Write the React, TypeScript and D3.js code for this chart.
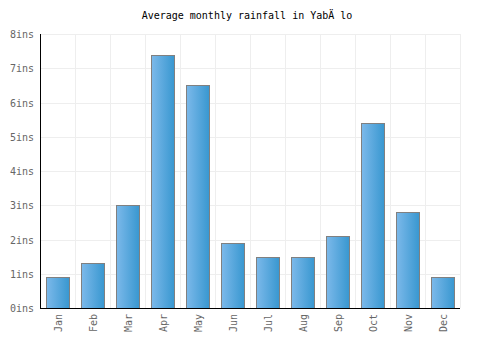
import React, { useRef, useEffect } from "react";
import * as d3 from "d3";

const months = ["Jan", "Feb", "Mar", "Apr", "May", "Jun", "Jul", "Aug", "Sep", "Oct", "Nov", "Dec"];
const rainfall = [0.9, 1.3, 3.0, 7.4, 6.5, 1.9, 1.5, 1.5, 2.1, 5.4, 2.8, 0.9];
const yTicks = [0, 1, 2, 3, 4, 5, 6, 7, 8];

export default function App() {
  const svgRef = useRef<SVGSVGElement>(null);

  useEffect(() => {
    const width = 500;
    const height = 350;
    const margin = { top: 34, right: 40, bottom: 42, left: 40 };
    const font = "'DejaVu Sans Mono', monospace";

    const svg = d3.select(svgRef.current);
    svg.selectAll("*").remove();
    svg.attr("width", width).attr("height", height);

    const defs = svg.append("defs");
    const grad = defs
      .append("linearGradient")
      .attr("id", "barGrad")
      .attr("x1", "0%")
      .attr("x2", "100%")
      .attr("y1", "0%")
      .attr("y2", "0%");
    grad.append("stop").attr("offset", "0%").attr("stop-color", "#7cb9ea");
    grad.append("stop").attr("offset", "100%").attr("stop-color", "#3897d0");

    const x = d3
      .scaleBand()
      .domain(months)
      .range([margin.left, width - margin.right])
      .paddingInner(0.33)
      .paddingOuter(0.165);

    const bandW = (width - margin.left - margin.right) / months.length;

    const y = d3
      .scaleLinear()
      .domain([0, 8])
      .range([height - margin.bottom, margin.top]);

    // Title
    svg
      .append("text")
      .attr("x", 247)
      .attr("y", 19)
      .attr("text-anchor", "middle")
      .attr("font-family", font)
      .attr("font-size", "10px")
      .attr("fill", "#000")
      .text("Average monthly rainfall in YabÄ lo");

    // Grid
    const grid = svg.append("g");
    yTicks.slice(1).forEach((t) => {
      grid
        .append("line")
        .attr("x1", margin.left)
        .attr("x2", width - margin.right)
        .attr("y1", Math.round(y(t)) + 0.5)
        .attr("y2", Math.round(y(t)) + 0.5)
        .attr("stroke", "#eeeeee");
    });
    for (let i = 1; i <= months.length; i++) {
      const gx = Math.round(margin.left + i * bandW) + 0.5;
      grid
        .append("line")
        .attr("x1", gx)
        .attr("x2", gx)
        .attr("y1", margin.top)
        .attr("y2", height - margin.bottom)
        .attr("stroke", "#eeeeee");
    }

    // Bars
    svg
      .append("g")
      .selectAll("rect")
      .data(rainfall)
      .join("rect")
      .attr("x", (_, i) => Math.round(x(months[i])!) + 0.5)
      .attr("y", (d) => Math.round(y(d)) + 0.5)
      .attr("width", Math.round(x.bandwidth()))
      .attr("height", (d) => Math.round(y(0)) - Math.round(y(d)))
      .attr("fill", "url(#barGrad)")
      .attr("stroke", "#808080")
      .attr("stroke-width", 1);

    // Axes lines
    svg
      .append("line")
      .attr("x1", margin.left + 0.5)
      .attr("x2", margin.left + 0.5)
      .attr("y1", margin.top)
      .attr("y2", height - margin.bottom + 1)
      .attr("stroke", "#000");
    svg
      .append("line")
      .attr("x1", margin.left)
      .attr("x2", width - margin.right)
      .attr("y1", height - margin.bottom + 0.5)
      .attr("y2", height - margin.bottom + 0.5)
      .attr("stroke", "#000");

    // Y tick labels
    svg
      .append("g")
      .selectAll("text")
      .data(yTicks)
      .join("text")
      .attr("x", margin.left - 6)
      .attr("y", (d) => y(d) + 4)
      .attr("text-anchor", "end")
      .attr("font-family", font)
      .attr("font-size", "10px")
      .attr("fill", "#666")
      .text((d) => `${d}ins`);

    // X tick labels
    svg
      .append("g")
      .selectAll("text")
      .data(months)
      .join("text")
      .attr("transform", (d) => `translate(${x(d)! + x.bandwidth() / 2 + 4},${height - margin.bottom + 6}) rotate(-90)`)
      .attr("text-anchor", "end")
      .attr("font-family", font)
      .attr("font-size", "10px")
      .attr("fill", "#666")
      .text((d) => d);
  }, []);

  return <svg ref={svgRef} style={{ position: "absolute", left: 0, top: 0 }} />;
}
